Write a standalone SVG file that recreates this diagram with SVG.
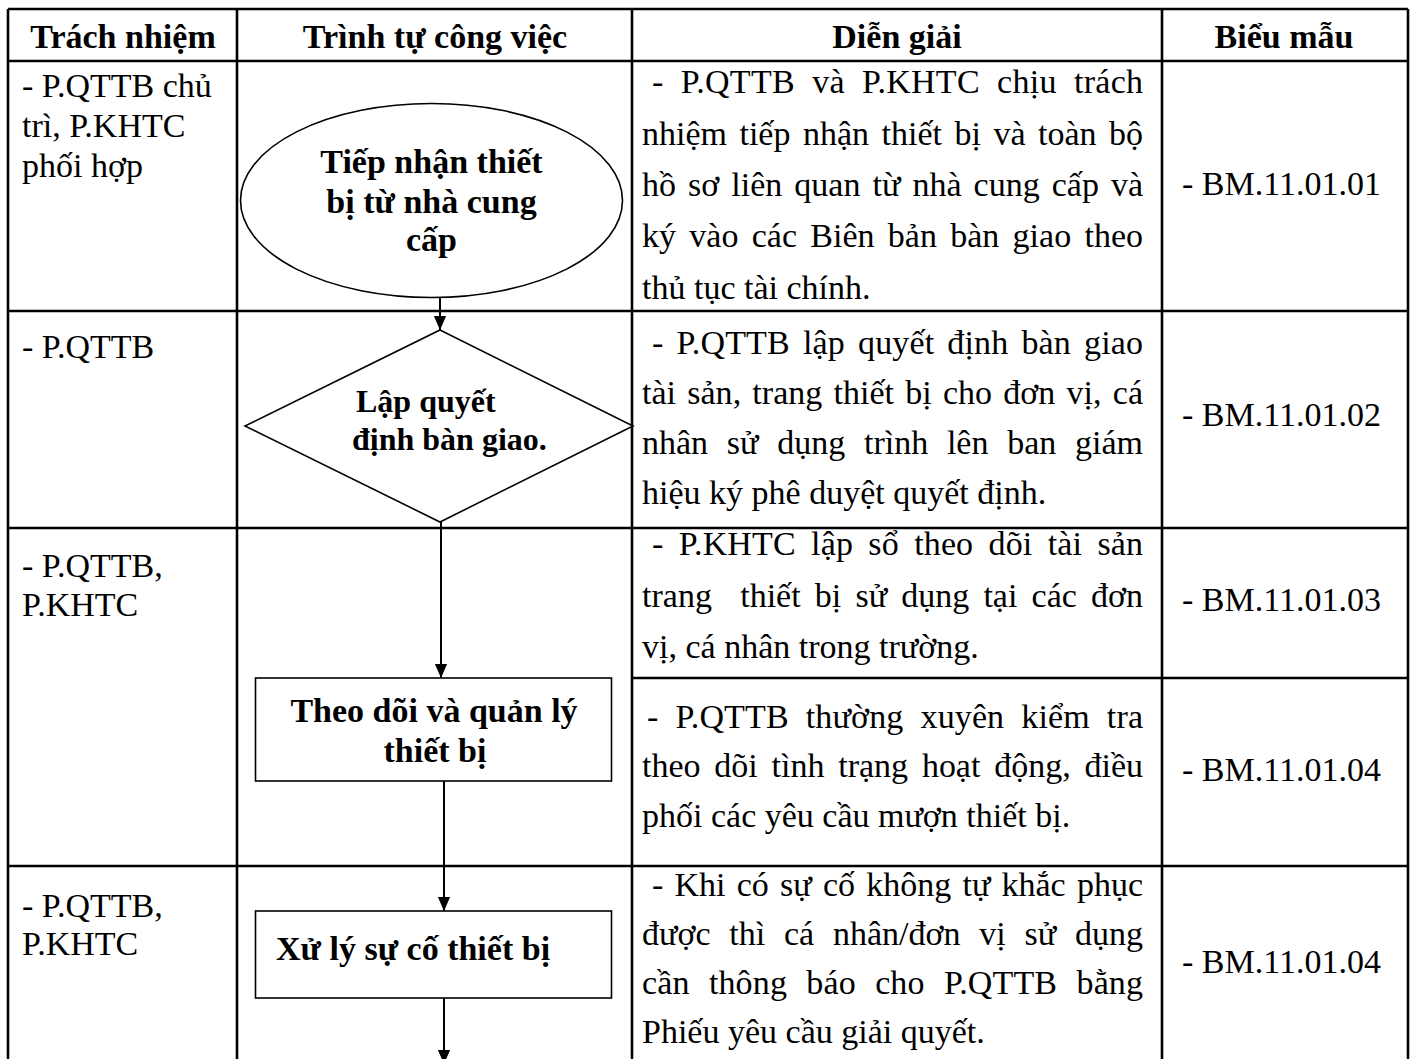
<svg xmlns="http://www.w3.org/2000/svg" width="1415" height="1059" viewBox="0 0 1415 1059">
<style>
.t{font-family:"Liberation Serif","Times New Roman",serif;font-size:34px;fill:#000}
.b{font-family:"Liberation Serif","Times New Roman",serif;font-size:34px;font-weight:bold;fill:#000}
.bs{font-family:"Liberation Serif","Times New Roman",serif;font-size:32px;font-weight:bold;fill:#000}
.grid{stroke:#000;stroke-width:2.6;fill:none}
.shape{stroke:#000;stroke-width:1.6;fill:#fff}
.conn{stroke:#000;stroke-width:2;fill:none}
</style>
<defs>
<marker id="arr" viewBox="0 0 16 14" refX="16" refY="7" markerWidth="14" markerHeight="16" markerUnits="userSpaceOnUse" orient="auto">
<path d="M0,0 L16,7 L0,14 z" fill="#000"/>
</marker>
</defs>
<rect width="1415" height="1059" fill="#fff"/>
<g id="table" class="grid">
<line x1="8" y1="9" x2="1408" y2="9"/>
<line x1="8" y1="9" x2="8" y2="1062"/>
<line x1="237" y1="9" x2="237" y2="1062"/>
<line x1="632" y1="9" x2="632" y2="1062"/>
<line x1="1162" y1="9" x2="1162" y2="1062"/>
<line x1="1408" y1="9" x2="1408" y2="1062"/>
<line x1="8" y1="61" x2="1408" y2="61"/>
<line x1="8" y1="311" x2="1408" y2="311"/>
<line x1="8" y1="528" x2="1408" y2="528"/>
<line x1="632" y1="678" x2="1408" y2="678"/>
<line x1="8" y1="866" x2="1408" y2="866"/>
</g>
<g id="header">
<text class="b" x="123" y="48" text-anchor="middle">Trách nhiệm</text>
<text class="b" x="435" y="48" text-anchor="middle">Trình tự công việc</text>
<text class="b" x="897" y="48" text-anchor="middle">Diễn giải</text>
<text class="b" x="1284" y="48" text-anchor="middle">Biểu mẫu</text>
</g>
<g id="responsibility">
<text class="t" x="22" y="97">- P.QTTB chủ</text>
<text class="t" x="22" y="137">trì, P.KHTC</text>
<text class="t" x="22" y="177">phối hợp</text>
<text class="t" x="22" y="358">- P.QTTB</text>
<text class="t" x="22" y="577">- P.QTTB,</text>
<text class="t" x="22" y="616">P.KHTC</text>
<text class="t" x="22" y="917">- P.QTTB,</text>
<text class="t" x="22" y="955">P.KHTC</text>
</g>
<g id="description">
<text class="t" x="652" y="93" word-spacing="8.5" textLength="491" lengthAdjust="spacing">- P.QTTB và P.KHTC chịu trách</text>
<text class="t" x="642" y="145" word-spacing="4" textLength="501" lengthAdjust="spacing">nhiệm tiếp nhận thiết bị và toàn bộ</text>
<text class="t" x="642" y="196" word-spacing="3.5" textLength="501" lengthAdjust="spacing">hồ sơ liên quan từ nhà cung cấp và</text>
<text class="t" x="642" y="247" word-spacing="4.8" textLength="501" lengthAdjust="spacing">ký vào các Biên bản bàn giao theo</text>
<text class="t" x="642" y="299">thủ tục tài chính.</text>
<text class="t" x="652" y="354" word-spacing="4.5" textLength="491" lengthAdjust="spacing">- P.QTTB lập quyết định bàn giao</text>
<text class="t" x="642" y="404" word-spacing="2.7" textLength="501" lengthAdjust="spacing">tài sản, trang thiết bị cho đơn vị, cá</text>
<text class="t" x="642" y="454" word-spacing="10.2" textLength="501" lengthAdjust="spacing">nhân sử dụng trình lên ban giám</text>
<text class="t" x="642" y="504">hiệu ký phê duyệt quyết định.</text>
<text class="t" x="652" y="555" word-spacing="6.7" textLength="491" lengthAdjust="spacing">- P.KHTC lập sổ theo dõi tài sản</text>
<text class="t" x="642" y="607" xml:space="preserve" word-spacing="5.6" textLength="501" lengthAdjust="spacing">trang  thiết bị sử dụng tại các đơn</text>
<text class="t" x="642" y="658">vị, cá nhân trong trường.</text>
<text class="t" x="647" y="728" word-spacing="8.4" textLength="496" lengthAdjust="spacing">- P.QTTB thường xuyên kiểm tra</text>
<text class="t" x="642" y="777" word-spacing="5.3" textLength="501" lengthAdjust="spacing">theo dõi tình trạng hoạt động, điều</text>
<text class="t" x="642" y="827">phối các yêu cầu mượn thiết bị.</text>
<text class="t" x="652" y="896" word-spacing="2.7" textLength="491" lengthAdjust="spacing">- Khi có sự cố không tự khắc phục</text>
<text class="t" x="642" y="945" word-spacing="10.2" textLength="501" lengthAdjust="spacing">được thì cá nhân/đơn vị sử dụng</text>
<text class="t" x="642" y="994" word-spacing="10.7" textLength="501" lengthAdjust="spacing">cần thông báo cho P.QTTB bằng</text>
<text class="t" x="642" y="1043">Phiếu yêu cầu giải quyết.</text>
</g>
<g id="forms">
<text class="t" x="1182" y="195">- BM.11.01.01</text>
<text class="t" x="1182" y="426">- BM.11.01.02</text>
<text class="t" x="1182" y="611">- BM.11.01.03</text>
<text class="t" x="1182" y="781">- BM.11.01.04</text>
<text class="t" x="1182" y="973">- BM.11.01.04</text>
</g>
<g id="connectors">
<line class="conn" x1="440" y1="298" x2="440" y2="330" marker-end="url(#arr)"/>
<line class="conn" x1="441" y1="522" x2="441" y2="678" marker-end="url(#arr)"/>
<line class="conn" x1="444" y1="781" x2="444" y2="911" marker-end="url(#arr)"/>
<line class="conn" x1="444" y1="998" x2="444" y2="1064" marker-end="url(#arr)"/>
</g>
<g id="node-receive">
<ellipse class="shape" cx="431.5" cy="200.5" rx="191" ry="97"/>
<text class="b" x="431.5" y="173" text-anchor="middle">Tiếp nhận thiết</text>
<text class="b" x="431.5" y="213" text-anchor="middle">bị từ nhà cung</text>
<text class="b" x="431.5" y="251" text-anchor="middle">cấp</text>
</g>
<g id="node-decision">
<polygon class="shape" points="440,330 633,426 440,522 245,426"/>
<text class="bs" x="356" y="412">Lập quyết</text>
<text class="bs" x="352" y="450">định bàn giao.</text>
</g>
<g id="node-monitor">
<rect class="shape" x="255.5" y="678" width="356" height="103" stroke-width="2"/>
<text class="b" x="434" y="722" text-anchor="middle">Theo dõi và quản lý</text>
<text class="b" x="435" y="762" text-anchor="middle">thiết bị</text>
</g>
<g id="node-incident">
<rect class="shape" x="255.5" y="911" width="356" height="87" stroke-width="2"/>
<text class="b" x="276" y="960">Xử lý sự cố thiết bị</text>
</g>
</svg>
